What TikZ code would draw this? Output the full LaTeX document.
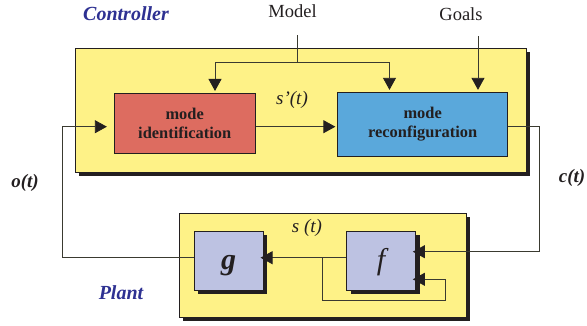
\documentclass[tikz,border=0pt]{standalone}
\usepackage{fontspec}
\setmainfont{Liberation Serif}
\usetikzlibrary{arrows.meta,shadows}

\definecolor{panelyellow}{HTML}{FEF287}
\definecolor{identred}{HTML}{DD6C60}
\definecolor{reconfblue}{HTML}{5AA8DB}
\definecolor{fnlilac}{HTML}{BDC2E2}
\definecolor{titleblue}{HTML}{2E3192}
\definecolor{wiregrey}{HTML}{3A3A30}
\definecolor{ink}{HTML}{231F20}

\begin{document}
\begin{tikzpicture}[x=1pt,y=-1pt,
  shadowed/.style={draw=ink,line width=0.7pt,inner sep=0pt,
    drop shadow={shadow xshift=4pt,shadow yshift=-4pt,fill=ink,opacity=1}},
  panel node/.style={shadowed,fill=panelyellow},
  block node/.style={draw=ink,line width=0.7pt,inner sep=0pt,align=center,text=ink,
    font=\fontsize{16.4}{19.5}\selectfont\bfseries},
  fn node/.style={shadowed,fill=fnlilac,minimum width=69pt,minimum height=59pt,
    text height=18pt,text depth=0pt,text=ink,font=\fontsize{30}{30}\selectfont\itshape},
  title node/.style={inner sep=0pt,text=titleblue,font=\fontsize{20}{24}\selectfont\bfseries\itshape},
  source node/.style={inner sep=0pt,text=ink,font=\fontsize{18.5}{22}\selectfont},
  signal node/.style={inner sep=0pt,text=ink,font=\fontsize{19}{22}\selectfont\itshape},
  wire/.style={draw=wiregrey,line width=0.8pt},
  arr/.style={wire,-{Triangle[length=12pt,width=13pt,color=ink]},shorten >=2pt}]

  \useasboundingbox (0,0) rectangle (587,325);

  % panels
  \node[panel node,minimum width=451pt,minimum height=124pt] (ctrl) at (300.5,110) {};
  \node[panel node,minimum width=287pt,minimum height=104pt] (plant) at (322.5,265.4) {};

  % controller blocks
  \node[block node,fill=identred,minimum width=141pt,minimum height=60pt] (ident) at (184.7,123.3) {mode\\identification};
  \node[block node,fill=reconfblue,minimum width=170pt,minimum height=64pt] (reconf) at (422.7,124.2) {mode\\reconfiguration};

  % plant functions
  \node[fn node,font=\fontsize{30}{30}\selectfont\bfseries\itshape] (g) at (228.7,260.5) {g};
  \node[fn node] (f) at (381,260.5) {f};

  % texts
  \node[title node] (ctrltxt) at (126,14) {Controller};
  \node[title node] (planttxt) at (121,293) {Plant};
  \node[source node] (model) at (292.5,11) {Model};
  \node[source node] (goals) at (461,14) {Goals};
  \node[signal node] (sp) at (292,100) {s’(t)};
  \node[signal node] (st) at (307,228) {s (t)};
  \node[signal node,font=\fontsize{19}{22}\selectfont\bfseries\itshape] (ot) at (25,183) {o(t)};
  \node[signal node,font=\fontsize{19}{22}\selectfont\bfseries\itshape] (ct) at (572,178) {c(t)};

  \coordinate (mtop) at (297.3,35);
  \coordinate (mbar) at (297.3,62);
  \coordinate (mL) at (215,62);
  \coordinate (mR) at (389.5,62);
  \coordinate (gtop) at (478,36);
  \coordinate (oL) at (62,126.7);
  \coordinate (oB) at (62,257.7);
  \coordinate (cR) at (539.3,126);
  \coordinate (cB) at (539.3,251.7);
  \coordinate (br) at (322.3,257.7);
  \coordinate (lp) at (445.7,300);
  \coordinate (fin) at (445.7,279.3);

  % model and goals feed
  \draw[wire] (mtop) -- (mbar);
  \draw[wire] (mL) -- (mR);
  \draw[arr] (mL) -- (mL |- ident.north);
  \draw[arr] (mR) -- (mR |- reconf.north);
  \draw[arr] (gtop) -- (gtop |- reconf.north);
  \draw[arr] ([yshift=-3.4pt]ident.east) -- ([yshift=-3.4pt]ident.east -| reconf.west);

  % observation loop
  \draw[wire] (g.west |- oB) -- (oB) -- (oL);
  \draw[arr,shorten >=7pt] (oL) -- (oL -| ident.west);

  % command loop
  \draw[wire] (reconf.east |- cR) -- (cR) -- (cB);
  \draw[arr,shorten >=-3pt] (cB) -- (cB -| f.east);

  % state inside the plant
  \draw[arr,shorten >=-3pt] (f.west |- br) -- (br -| g.east);
  \draw[arr,shorten >=-3pt] (br) |- (lp) -- (fin) -- (fin -| f.east);
\end{tikzpicture}
\end{document}
